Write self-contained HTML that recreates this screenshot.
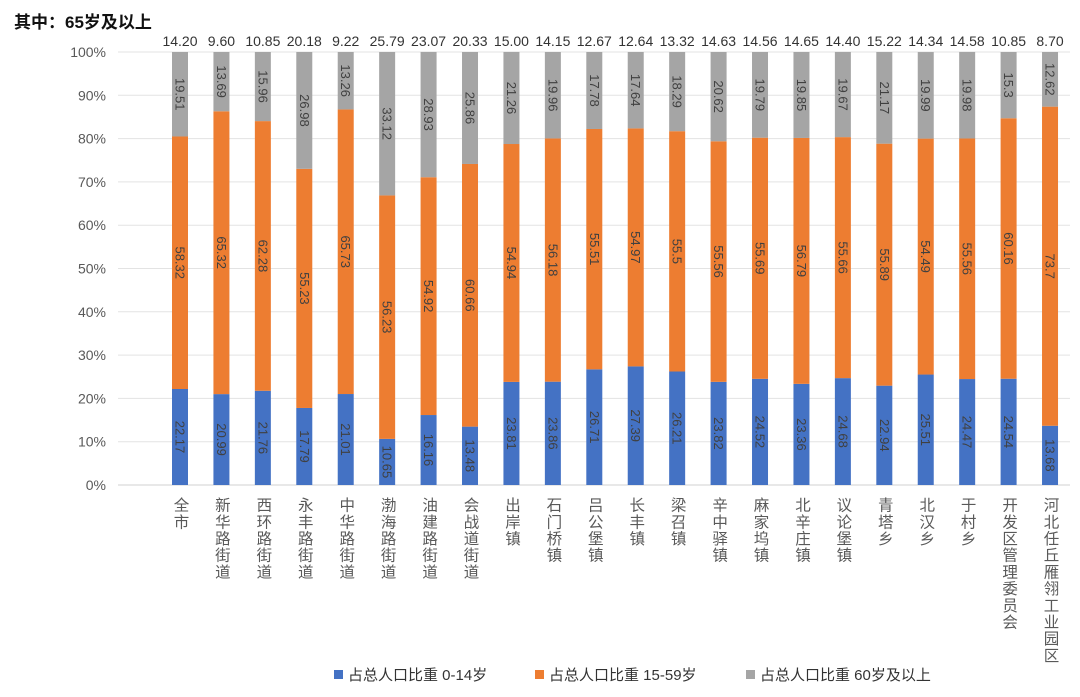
<!DOCTYPE html>
<html><head><meta charset="utf-8"><style>
html,body{margin:0;padding:0;background:#fff;}
svg{display:block;font-family:"Liberation Sans","Noto Sans CJK SC",sans-serif;}
</style></head><body>
<svg id="chart" width="1080" height="697" viewBox="0 0 1080 697">
<text x="14" y="28" font-size="17" font-weight="bold" fill="#111">其中：65岁及以上</text>
<g id="grid"></g><g id="bars"></g><g id="labels"></g>
<g>
<rect x="334" y="670" width="9" height="9" fill="#4472C4"/>
<text x="348" y="680" font-size="15" fill="#333">占总人口比重 0-14岁</text>
<rect x="535" y="670" width="9" height="9" fill="#ED7D31"/>
<text x="549" y="680" font-size="15" fill="#333">占总人口比重 15-59岁</text>
<rect x="746" y="670" width="9" height="9" fill="#A5A5A5"/>
<text x="760" y="680" font-size="15" fill="#333">占总人口比重 60岁及以上</text>
</g>
</svg>
<script>
const categories=["全市","新华路街道","西环路街道","永丰路街道","中华路街道","渤海路街道","油建路街道","会战道街道","出岸镇","石门桥镇","吕公堡镇","长丰镇","梁召镇","辛中驿镇","麻家坞镇","北辛庄镇","议论堡镇","青塔乡","北汉乡","于村乡","开发区管理委员会","河北任丘雁翎工业园区"];
const young=[22.17,20.99,21.76,17.79,21.01,10.65,16.16,13.48,23.81,23.86,26.71,27.39,26.21,23.82,24.52,23.36,24.68,22.94,25.51,24.47,24.54,13.68];
const middle=[58.32,65.32,62.28,55.23,65.73,56.23,54.92,60.66,54.94,56.18,55.51,54.97,55.5,55.56,55.69,56.79,55.66,55.89,54.49,55.56,60.16,73.7];
const old=[19.51,13.69,15.96,26.98,13.26,33.12,28.93,25.86,21.26,19.96,17.78,17.64,18.29,20.62,19.79,19.85,19.67,21.17,19.99,19.98,15.3,12.62];
const oldLabels=["19.51","13.69","15.96","26.98","13.26","33.12","28.93","25.86","21.26","19.96","17.78","17.64","18.29","20.62","19.79","19.85","19.67","21.17","19.99","19.98","15.3","12.62"];
const middleLabels=["58.32","65.32","62.28","55.23","65.73","56.23","54.92","60.66","54.94","56.18","55.51","54.97","55.5","55.56","55.69","56.79","55.66","55.89","54.49","55.56","60.16","73.7"];
const youngLabels=["22.17","20.99","21.76","17.79","21.01","10.65","16.16","13.48","23.81","23.86","26.71","27.39","26.21","23.82","24.52","23.36","24.68","22.94","25.51","24.47","24.54","13.68"];
const over65=["14.20","9.60","10.85","20.18","9.22","25.79","23.07","20.33","15.00","14.15","12.67","12.64","13.32","14.63","14.56","14.65","14.40","15.22","14.34","14.58","10.85","8.70"];
const yTicks=[0,10,20,30,40,50,60,70,80,90,100];

const NS="http://www.w3.org/2000/svg";
const y0=485,y100=52;
const yS=v=>y0-(y0-y100)*v/100;
const xS=i=>180+i*41.43;
const bw=16;
function mk(tag,attrs,parent,txt){const e=document.createElementNS(NS,tag);for(const k in attrs)e.setAttribute(k,attrs[k]);if(txt!==undefined)e.textContent=txt;parent.appendChild(e);return e;}
const grid=document.getElementById('grid'),bars=document.getElementById('bars'),labels=document.getElementById('labels');
yTicks.forEach(t=>{
  const l=mk('line',{x1:118,x2:1070,y1:yS(t),y2:yS(t),stroke:t===0?'#d0d0d0':'#e3e3e3','stroke-width':1},grid);
  
  
  const tx=mk('text',{x:106,y:yS(t)+5,'text-anchor':'end','font-size':14,fill:'#595959'},grid,t+'%');
  
  
});
const series=[[young,'#4472C4',youngLabels,'young'],[middle,'#ED7D31',middleLabels,'middle'],[old,'#A5A5A5',oldLabels,'old']];
categories.forEach((c,i)=>{
  const cx=xS(i);let cum=0;
  series.forEach(([vals,col,labs,nm])=>{
    const a=cum,b=cum+vals[i];cum=b;
    const r=mk('rect',{x:cx-bw/2,y:yS(b),width:bw,height:yS(a)-yS(b),fill:col},bars);
    
    
    const my=yS((a+b)/2);
    const t=mk('text',{x:cx,y:my,'text-anchor':'middle','dominant-baseline':'central','font-size':13,fill:'#404040',transform:`rotate(90 ${cx} ${my})`},labels,labs[i]);
    
    
  });
  const tt=mk('text',{x:cx,y:46,'text-anchor':'middle','font-size':14,fill:'#333'},labels,over65[i]);
  
  
  const ct=mk('text',{x:cx,y:497,'font-size':15.5,fill:'#595959','writing-mode':'tb','glyph-orientation-vertical':0,'letter-spacing':1.2},labels,c);
  
  
});
</script>
</body></html>
